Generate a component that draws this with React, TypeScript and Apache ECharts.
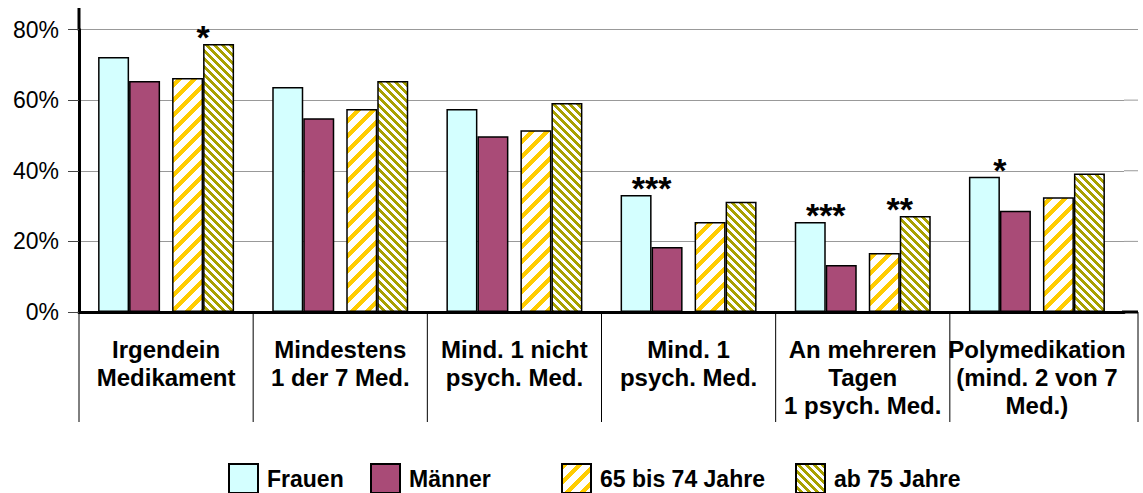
import React, { useEffect, useRef } from 'react';
import * as echarts from 'echarts';

const categories = [
  'Irgendein\nMedikament',
  'Mindestens\n1 der 7 Med.',
  'Mind. 1 nicht\npsych. Med.',
  'Mind. 1\npsych. Med.',
  'An mehreren\nTagen\n1 psych. Med.',
  'Polymedikation\n(mind. 2 von 7\nMed.)',
];
const seriesNames = ['Frauen', 'Männer', '65 bis 74 Jahre', 'ab 75 Jahre'];
const frauen = [72.2, 63.7, 57.5, 33.1, 25.5, 38.3];
const maenner = [65.4, 54.9, 49.8, 18.4, 13.3, 28.7];
const age65to74 = [66.3, 57.5, 51.5, 25.5, 16.7, 32.5];
const age75plus = [75.9, 65.4, 59.2, 31.2, 27.2, 39.2];
const sexSignificance = ['', '', '', '***', '***', '*'];
const ageSignificance = ['*', '', '', '', '**', ''];
const yTicks = [0, 20, 40, 60, 80];

const FONT = "'Liberation Sans', Arial, sans-serif";

function makeStripes(color: string, size: number, band: number, dir: 'up' | 'down') {
  const c = document.createElement('canvas');
  c.width = size;
  c.height = size;
  const ctx = c.getContext('2d')!;
  ctx.fillStyle = '#ffffff';
  ctx.fillRect(0, 0, size, size);
  ctx.fillStyle = color;
  for (let y = 0; y < size; y++) {
    for (let x = 0; x < size; x++) {
      const v = dir === 'up' ? (x + y) % size : (((x - y) % size) + size) % size;
      if (v < band) ctx.fillRect(x, y, 1, 1);
    }
  }
  return c;
}

export default function App() {
  const ref = useRef<HTMLDivElement>(null);
  useEffect(() => {
    if (!ref.current) return;
    const chart = echarts.init(ref.current, undefined, { renderer: 'svg' });
    const yellowPattern = { image: makeStripes('#FFCC00', 15, 6, 'up'), repeat: 'repeat' };
    const olivePattern = { image: makeStripes('#A9A100', 8, 4, 'down'), repeat: 'repeat' };
    const border = { borderColor: '#000', borderWidth: 1.5 };
    const starLabel = (sig: string[], dx: number) => ({
      show: true,
      position: 'top',
      distance: 0,
      offset: [dx, 10],
      fontSize: 34,
      fontWeight: 'bold',
      fontFamily: FONT,
      color: '#000',
      formatter: (p: any) => sig[p.dataIndex] || '',
    });
    const legendBase = (name: string, left: number) => ({
      data: [name],
      left,
      top: 463,
      padding: 0,
      itemWidth: 29,
      itemHeight: 29,
      icon: 'rect',
      selectedMode: false,
      textStyle: { fontSize: 23, fontWeight: 'bold', fontFamily: FONT, color: '#000', padding: [0, 0, 0, 4] },
    });
    const option: any = {
      animation: false,
      backgroundColor: '#fff',
      grid: { left: 79, right: 19, top: 29.5, bottom: 181 },
      legend: [
        legendBase(seriesNames[0], 228),
        legendBase(seriesNames[1], 370),
        legendBase(seriesNames[2], 561),
        legendBase(seriesNames[3], 795),
      ],
      xAxis: {
        type: 'category',
        data: categories,
        axisLine: { lineStyle: { color: '#000', width: 3 } },
        axisTick: { show: false },
        axisLabel: {
          interval: 0,
          margin: 23,
          fontSize: 24,
          lineHeight: 28,
          fontWeight: 'bold',
          fontFamily: FONT,
          color: '#000',
        },
      },
      yAxis: {
        type: 'value',
        min: yTicks[0],
        max: yTicks[yTicks.length - 1],
        interval: 20,
        axisLine: { show: true, lineStyle: { color: '#000', width: 3 } },
        axisTick: { show: true, length: 11, lineStyle: { color: '#444', width: 1 } },
        axisLabel: { formatter: '{value}%', fontSize: 23, fontFamily: FONT, color: '#000', margin: 20 },
        splitLine: { lineStyle: { color: '#999', width: 1 } },
      },
      series: [
        {
          name: seriesNames[0], type: 'bar', data: frauen, barWidth: 31, barGap: '0%',
          itemStyle: { color: '#D4FFFF', ...border }, label: starLabel(sexSignificance, 15.5),
        },
        {
          name: seriesNames[1], type: 'bar', data: maenner, barWidth: 31, barGap: '0%',
          itemStyle: { color: '#A94B77', ...border },
        },
        {
          name: 'spacer', type: 'bar', data: categories.map(() => null), barWidth: 12, barGap: '0%',
          itemStyle: { color: 'transparent' },
        },
        {
          name: seriesNames[2], type: 'bar', data: age65to74, barWidth: 31, barGap: '0%',
          itemStyle: { color: yellowPattern, ...border },
        },
        {
          name: seriesNames[3], type: 'bar', data: age75plus, barWidth: 31, barGap: '0%',
          itemStyle: { color: olivePattern, ...border }, label: starLabel(ageSignificance, -15.5),
        },
      ],
    };
    chart.setOption(option);

    const centers = categories.map((_, i) => chart.convertToPixel({ xAxisIndex: 0 }, i) as number);
    const pitch = centers[1] - centers[0];
    const baseY = chart.convertToPixel({ yAxisIndex: 0 }, 0) as number;
    const topY = chart.convertToPixel({ yAxisIndex: 0 }, yTicks[yTicks.length - 1]) as number;
    const plotLeft = centers[0] - pitch / 2;
    const plotRight = centers[centers.length - 1] + pitch / 2;
    const extRight = plotRight + 14;
    const sepLen = 110;
    const graphic: any[] = [];
    centers.forEach((c) => {
      graphic.push({ type: 'line', shape: { x1: c - pitch / 2, y1: baseY, x2: c - pitch / 2, y2: baseY + sepLen }, style: { stroke: '#000', lineWidth: 1 } });
    });
    graphic.push({ type: 'line', shape: { x1: extRight, y1: baseY, x2: extRight, y2: baseY + sepLen }, style: { stroke: '#000', lineWidth: 1 } });
    yTicks.slice(1).forEach((v) => {
      const y = chart.convertToPixel({ yAxisIndex: 0 }, v) as number;
      graphic.push({ type: 'line', z: -1, shape: { x1: plotRight, y1: y, x2: extRight, y2: y }, style: { stroke: '#999', lineWidth: 1 } });
    });
    graphic.push({ type: 'line', shape: { x1: plotRight - 2, y1: baseY, x2: extRight, y2: baseY }, style: { stroke: '#000', lineWidth: 3 } });
    graphic.push({ type: 'line', shape: { x1: plotLeft, y1: 8, x2: plotLeft, y2: topY + 1 }, style: { stroke: '#000', lineWidth: 3 } });
    chart.setOption({ graphic });

    return () => chart.dispose();
  }, []);
  return (
    <div
      ref={ref}
      style={{ position: 'absolute', left: 0, top: 0, width: 1143, height: 493 }}
    />
  );
}
